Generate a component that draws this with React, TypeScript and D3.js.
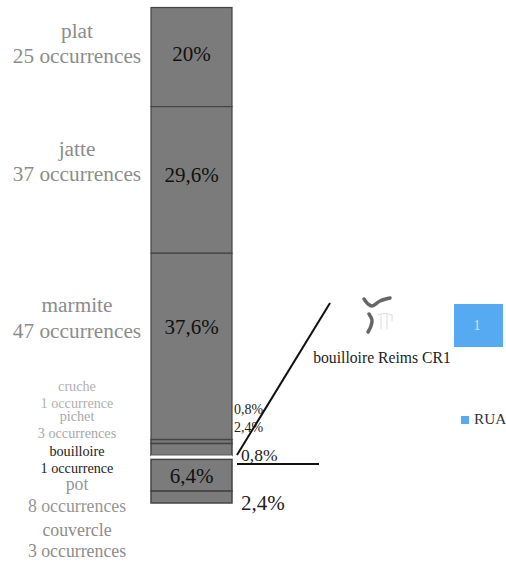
import React from "react";
import * as d3 from "d3";

const categories = ["plat", "jatte", "marmite", "cruche", "pichet", "bouilloire", "pot", "couvercle"];
const occurrences = [25, 37, 47, 1, 3, 1, 8, 3];
const occurrenceLabels = ["25 occurrences", "37 occurrences", "47 occurrences", "1 occurrence", "3 occurrences", "1 occurrence", "8 occurrences", "3 occurrences"];
const barColors = ["#7b7b7b", "#7b7b7b", "#7b7b7b", "#7b7b7b", "#7b7b7b", "#ffffff", "#7b7b7b", "#7b7b7b"];
const nameY = [38, 156, 312, 391, 421, 456, 490, 536];
const occY = [63, 181, 338, 408, 438, 473, 512, 557];
const labelSizes = [21.3, 21.3, 21.3, 14.2, 14.2, 14.2, 17.8, 17.8];
const labelColors = ["#8c8c8c", "#8c8c8c", "#8c8c8c", "#b0b0b0", "#a8a8a8", "#222222", "#969696", "#8c8c8c"];
const insideLabels = [
  { text: "20%", i: 0, y: 61 },
  { text: "29,6%", i: 1, y: 182 },
  { text: "37,6%", i: 2, y: 334 },
  { text: "6,4%", i: 6, y: 483 },
];
const sideLabels = [
  { text: "0,8%", x: 234, y: 414, size: 14 },
  { text: "2,4%", x: 234, y: 432, size: 14 },
  { text: "0,8%", x: 241, y: 461, size: 17.5 },
  { text: "2,4%", x: 241, y: 510, size: 21 },
];

const serif = "'Liberation Serif', serif";

export default function App() {
  const total = d3.sum(occurrences);
  const y = d3.scaleLinear().domain([0, total]).range([7.5, 503]);
  const cum = d3.cumsum(occurrences);
  const starts = occurrences.map((_, i) => (i === 0 ? 0 : cum[i - 1]));
  const icon = d3.line().curve(d3.curveCatmullRom);
  const barMid = 191.5;
  return (
    <svg width={506} height={566} style={{ position: "absolute", left: 0, top: 0, fontFamily: serif }}>
      <rect width={506} height={566} fill="#fff" />
      {occurrences.map((v, i) => (
        <rect key={i} x={151} y={y(starts[i])} width={81} height={y(starts[i] + v) - y(starts[i])} fill={barColors[i]} stroke={i === 5 ? "none" : "#444"} strokeWidth={i < 3 ? 1.2 : 1.5} />
      ))}
      <rect x={151} y={y(starts[5]) + 1} width={81} height={y(starts[6]) - y(starts[5]) - 2.5} fill="#fff" />
      {categories.map((c, i) => (
        <g key={c} textAnchor="middle" fill={labelColors[i]} fontSize={labelSizes[i]}>
          <text x={77} y={nameY[i]}>{c}</text>
          <text x={77} y={occY[i]}>{occurrenceLabels[i]}</text>
        </g>
      ))}
      {insideLabels.map((l) => (
        <text key={l.text} x={barMid} y={l.y} textAnchor="middle" fontSize={21} fill="#111">{l.text}</text>
      ))}
      {sideLabels.map((l, i) => (
        <text key={i} x={l.x} y={l.y} fontSize={l.size} fill="#222">{l.text}</text>
      ))}
      <line x1={237} y1={455} x2={330} y2={303} stroke="#111" strokeWidth={2} />
      <line x1={237} y1={464} x2={319} y2={464} stroke="#111" strokeWidth={2} />
      <g fill="none" strokeLinecap="round">
        <path d={icon([[364, 299], [368, 304], [372, 306], [380, 301], [390, 298]]) ?? ""} stroke="#666" strokeWidth={3.5} />
        <path d={icon([[369, 314], [372, 320], [371, 326], [368, 332]]) ?? ""} stroke="#666" strokeWidth={3.5} />
        <path d="M378 315Q385 312 392 315M381 315V329M387 315V329M392 315V321" stroke="#dcdcdc" strokeWidth={1} />
      </g>
      <text x={382} y={363} textAnchor="middle" fontSize={15.7} fill="#222">bouilloire Reims CR1</text>
      <rect x={454} y={304} width={49} height={43} fill="#55aaf2" />
      <text x={477} y={330} textAnchor="middle" fontSize={14} fill="#cfe6fb">1</text>
      <rect x={461} y={416} width={8} height={8} fill="#55aaf2" />
      <text x={474} y={424} fontSize={15.3} fill="#333">RUA</text>
    </svg>
  );
}
